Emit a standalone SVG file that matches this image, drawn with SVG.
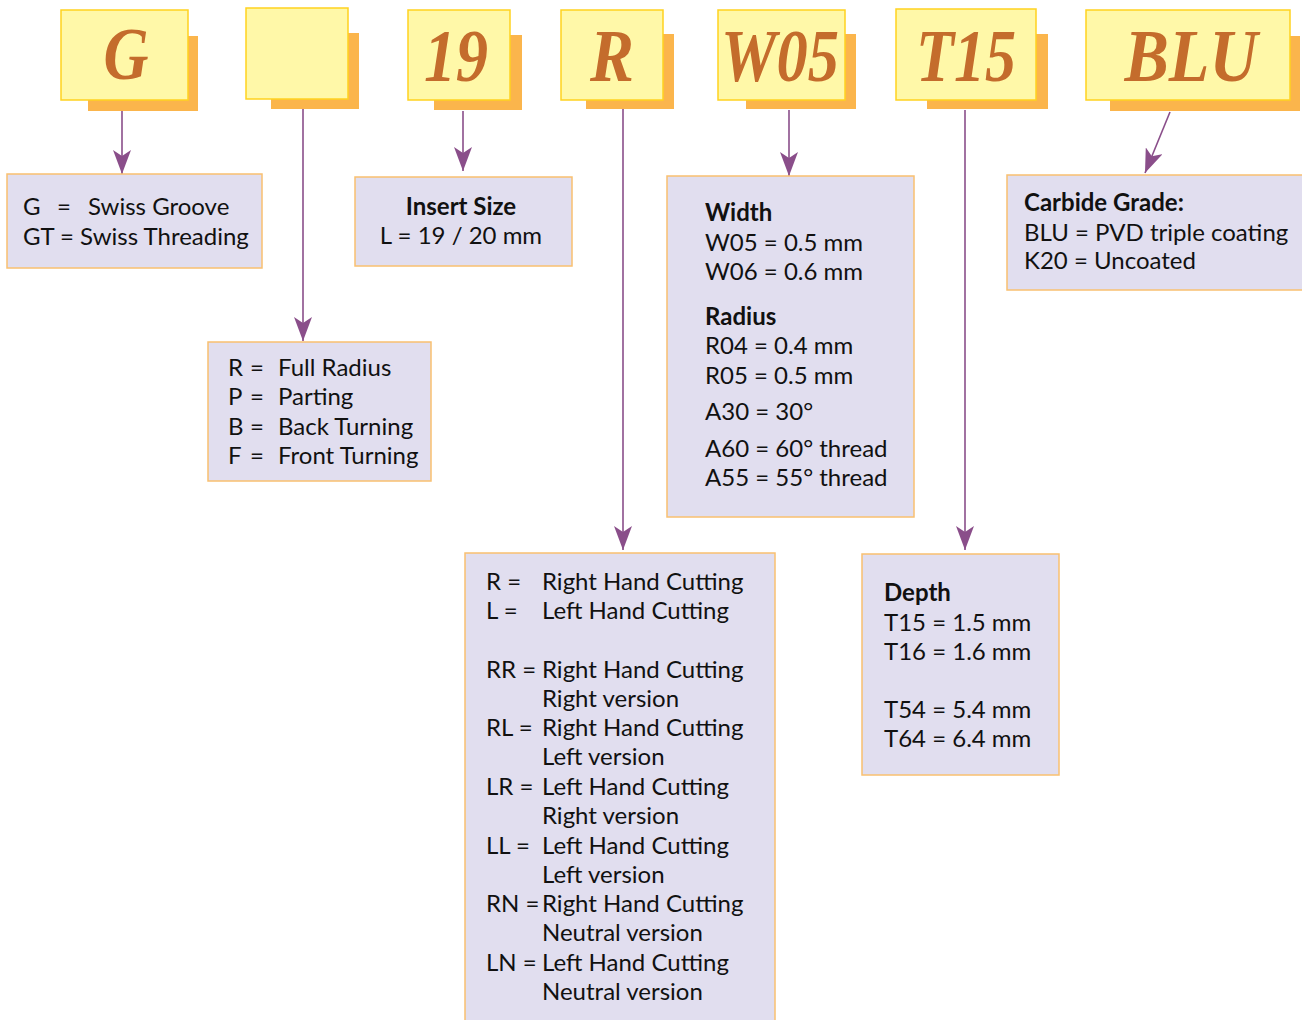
<svg xmlns="http://www.w3.org/2000/svg" width="1302" height="1020" viewBox="0 0 1302 1020">
<style>
.sh{fill:#FBB54C}
.hd{fill:#FFF8A8;stroke:#FFD21F;stroke-width:1.5}
.lt{font-family:"Liberation Serif",serif;font-weight:bold;font-style:italic;font-size:73px;fill:#C46C2C;text-anchor:middle}
.bx{fill:#E1DEEF;stroke:#F9C070;stroke-width:1.5}
.t{font-family:Lato,"Liberation Sans",sans-serif;font-size:24px;fill:#111}
.b{font-weight:bold}
.c{text-anchor:middle}
.cn{stroke:#8A4E8A;stroke-width:1.6;fill:none;marker-end:url(#ah)}
</style>
<defs>
<marker id="ah" markerUnits="userSpaceOnUse" markerWidth="24" markerHeight="18" refX="24" refY="9" orient="auto" viewBox="0 0 24 18">
<path d="M0,0 L24,9 L0,18 L6,9 Z" fill="#8A4E8A"/>
</marker>
</defs>
<rect width="1302" height="1020" fill="#fff"/>

<g id="connectors">
<line class="cn" x1="122" y1="111" x2="122" y2="174"/>
<line class="cn" x1="303" y1="109" x2="303" y2="341"/>
<line class="cn" x1="463" y1="111" x2="463" y2="171"/>
<line class="cn" x1="623" y1="109" x2="623" y2="550"/>
<line class="cn" x1="789" y1="110" x2="789" y2="176"/>
<line class="cn" x1="965" y1="110" x2="965" y2="550"/>
<line class="cn" x1="1170" y1="112" x2="1145" y2="173"/>
</g>

<g id="hdr-G"><rect class="sh" x="88" y="36" width="110" height="75"/><rect class="hd" x="61" y="10" width="127" height="90"/><text class="lt" x="126" y="79" textLength="45" lengthAdjust="spacingAndGlyphs">G</text></g>
<g id="hdr-blank"><rect class="sh" x="271" y="33" width="88" height="76"/><rect class="hd" x="246" y="8" width="102" height="91"/></g>
<g id="hdr-19"><rect class="sh" x="434" y="35" width="88" height="75"/><rect class="hd" x="408" y="10" width="102" height="90"/><text class="lt" x="456" y="81" textLength="64" lengthAdjust="spacingAndGlyphs">19</text></g>
<g id="hdr-R"><rect class="sh" x="586" y="34" width="88" height="75"/><rect class="hd" x="561" y="10" width="102" height="90"/><text class="lt" x="612" y="81" textLength="44" lengthAdjust="spacingAndGlyphs">R</text></g>
<g id="hdr-W05"><rect class="sh" x="746" y="34" width="110" height="75"/><rect class="hd" x="718" y="10" width="127" height="90"/><text class="lt" x="780" y="81" textLength="118" lengthAdjust="spacingAndGlyphs">W05</text></g>
<g id="hdr-T15"><rect class="sh" x="927" y="34" width="121" height="75"/><rect class="hd" x="896" y="9" width="140" height="91"/><text class="lt" x="966" y="81" textLength="100" lengthAdjust="spacingAndGlyphs">T15</text></g>
<g id="hdr-BLU"><rect class="sh" x="1110" y="36" width="190" height="75"/><rect class="hd" x="1086" y="10" width="204" height="90"/><text class="lt" x="1191" y="81" textLength="133" lengthAdjust="spacingAndGlyphs">BLU</text></g>

<g id="box-G"><rect class="bx" x="7" y="174" width="255" height="94"/>
<text class="t" x="23" y="215">G</text><text class="t" x="57" y="215">=</text><text class="t" x="88" y="215">Swiss Groove</text>
<text class="t" x="23" y="245">GT = Swiss Threading</text></g>

<g id="box-blank"><rect class="bx" x="208" y="342" width="223" height="139"/>
<text class="t" x="228" y="376">R</text><text class="t" x="250" y="376">=</text><text class="t" x="278" y="376">Full Radius</text>
<text class="t" x="228" y="405">P</text><text class="t" x="250" y="405">=</text><text class="t" x="278" y="405">Parting</text>
<text class="t" x="228" y="435">B</text><text class="t" x="250" y="435">=</text><text class="t" x="278" y="435">Back Turning</text>
<text class="t" x="228" y="464">F</text><text class="t" x="250" y="464">=</text><text class="t" x="278" y="464">Front Turning</text></g>

<g id="box-19"><rect class="bx" x="355" y="177" width="217" height="89"/>
<text class="t b c" x="461" y="215">Insert Size</text>
<text class="t c" x="461" y="244">L = 19 / 20 mm</text></g>

<g id="box-R"><rect class="bx" x="465" y="553" width="310" height="480"/>
<text class="t" x="486" y="590">R =</text><text class="t" x="542" y="590">Right Hand Cutting</text>
<text class="t" x="486" y="619">L =</text><text class="t" x="542" y="619">Left Hand Cutting</text>
<text class="t" x="486" y="678">RR =</text><text class="t" x="542" y="678">Right Hand Cutting</text>
<text class="t" x="542" y="707">Right version</text>
<text class="t" x="486" y="736">RL =</text><text class="t" x="542" y="736">Right Hand Cutting</text>
<text class="t" x="542" y="765">Left version</text>
<text class="t" x="486" y="795">LR =</text><text class="t" x="542" y="795">Left Hand Cutting</text>
<text class="t" x="542" y="824">Right version</text>
<text class="t" x="486" y="854">LL =</text><text class="t" x="542" y="854">Left Hand Cutting</text>
<text class="t" x="542" y="883">Left version</text>
<text class="t" x="486" y="912">RN =</text><text class="t" x="542" y="912">Right Hand Cutting</text>
<text class="t" x="542" y="941">Neutral version</text>
<text class="t" x="486" y="971">LN =</text><text class="t" x="542" y="971">Left Hand Cutting</text>
<text class="t" x="542" y="1000">Neutral version</text></g>

<g id="box-W05"><rect class="bx" x="667" y="176" width="247" height="341"/>
<text class="t b" x="705" y="221">Width</text>
<text class="t" x="705" y="251">W05 = 0.5 mm</text>
<text class="t" x="705" y="280">W06 = 0.6 mm</text>
<text class="t b" x="705" y="325">Radius</text>
<text class="t" x="705" y="354">R04 = 0.4 mm</text>
<text class="t" x="705" y="384">R05 = 0.5 mm</text>
<text class="t" x="705" y="420">A30 = 30°</text>
<text class="t" x="705" y="457">A60 = 60° thread</text>
<text class="t" x="705" y="486">A55 = 55° thread</text></g>

<g id="box-T15"><rect class="bx" x="862" y="554" width="197" height="221"/>
<text class="t b" x="884" y="601">Depth</text>
<text class="t" x="884" y="631">T15 = 1.5 mm</text>
<text class="t" x="884" y="660">T16 = 1.6 mm</text>
<text class="t" x="884" y="718">T54 = 5.4 mm</text>
<text class="t" x="884" y="747">T64 = 6.4 mm</text></g>

<g id="box-BLU"><rect class="bx" x="1007" y="175" width="300" height="115"/>
<text class="t b" x="1024" y="211">Carbide Grade:</text>
<text class="t" x="1024" y="241">BLU = PVD triple coating</text>
<text class="t" x="1024" y="269">K20 = Uncoated</text></g>
</svg>
